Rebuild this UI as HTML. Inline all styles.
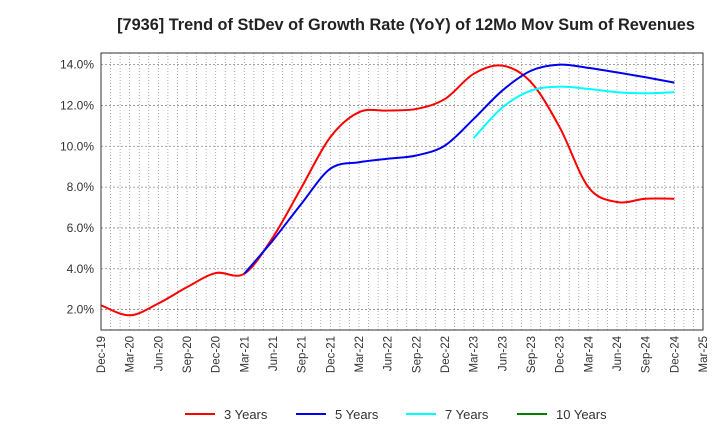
<!DOCTYPE html>
<html><head><meta charset="utf-8"><style>
body{margin:0;background:#fff;font-family:"Liberation Sans",sans-serif;}
</style></head><body>
<svg width="720" height="440" xmlns="http://www.w3.org/2000/svg" font-family="Liberation Sans, sans-serif">
<text x="406" y="30" text-anchor="middle" font-size="16.3" font-weight="bold" fill="#222">[7936]  Trend of StDev of Growth Rate (YoY) of 12Mo Mov Sum of Revenues</text>
<g id="grid"></g>
<g id="yaxis"></g>
<g id="xaxis"></g>
<g id="series"></g>
<rect x="101" y="53" width="602" height="277" fill="none" stroke="#333" stroke-width="1"/>
<g id="legend"></g>
</svg>
<script>
const xLabels=["Dec-19","Mar-20","Jun-20","Sep-20","Dec-20","Mar-21","Jun-21","Sep-21","Dec-21","Mar-22","Jun-22","Sep-22","Dec-22","Mar-23","Jun-23","Sep-23","Dec-23","Mar-24","Jun-24","Sep-24","Dec-24","Mar-25"];
const yTicks=[2,4,6,8,10,12,14];
const s3=[2.21,1.72,2.3,3.1,3.79,3.76,5.55,8.0,10.45,11.67,11.75,11.83,12.32,13.55,13.95,13.14,10.93,8.0,7.27,7.43,7.43];
const s5=[null,null,null,null,null,3.76,5.4,7.2,8.9,9.22,9.39,9.55,10.04,11.34,12.73,13.7,14.0,13.84,13.62,13.38,13.12];
const s7=[null,null,null,null,null,null,null,null,null,null,null,null,null,10.4,11.9,12.73,12.92,12.81,12.65,12.6,12.65];
const s10=[];
const L=101,R=703,T=53,B=330,yMin=1,yMax=14.57;
const X=i=>L+i*(R-L)/21;
const Y=v=>B-(v-yMin)*(B-T)/(yMax-yMin);
const NS="http://www.w3.org/2000/svg";
function mk(t,a,p){const e=document.createElementNS(NS,t);for(const k in a)e.setAttribute(k,a[k]);p.appendChild(e);return e;}
const grid=document.getElementById('grid');
for(let m=1;m<63;m++){const x=L+m*(R-L)/63;
const l=mk('line',{x1:x,x2:x,y1:T,y2:B,stroke:'#999','stroke-dasharray':'1,2','stroke-width':0.8},grid);

}
const ya=document.getElementById('yaxis');
yTicks.forEach(v=>{const y=Y(v);
const l=mk('line',{x1:L,x2:R,y1:y,y2:y,stroke:'#888','stroke-dasharray':'2,2','stroke-width':0.8},grid);


const t=mk('text',{x:94,y:y+4,'text-anchor':'end','font-size':12,fill:'#333'},ya);t.textContent=v.toFixed(1)+'%';

});
const xa=document.getElementById('xaxis');
xLabels.forEach((s,i)=>{const x=X(i);
const t=mk('text',{x:0,y:0,'text-anchor':'end','font-size':11.5,fill:'#333',transform:`translate(${x+4},336) rotate(-90)`},xa);t.textContent=s;

});
function path(arr){const pts=[];arr.forEach((v,i)=>{if(v!=null)pts.push([X(i),Y(v)]);});
if(pts.length<2)return '';let d=`M${pts[0][0]},${pts[0][1]}`;
for(let i=0;i<pts.length-1;i++){const p0=pts[Math.max(i-1,0)],p1=pts[i],p2=pts[i+1],p3=pts[Math.min(i+2,pts.length-1)];
const c1=[p1[0]+(p2[0]-p0[0])/6,p1[1]+(p2[1]-p0[1])/6],c2=[p2[0]-(p3[0]-p1[0])/6,p2[1]-(p3[1]-p1[1])/6];
d+=`C${c1[0]},${c1[1]} ${c2[0]},${c2[1]} ${p2[0]},${p2[1]}`;}return d;}
const sg=document.getElementById('series');
[[s3,'#ff0000','line-3-years'],[s5,'#0000ee','line-5-years'],[s7,'#00ffff','line-7-years'],[s10,'#008000','line-10-years']].forEach(([a,c,n])=>{
const d=path(a);if(!d)return;const p=mk('path',{d:d,fill:'none',stroke:c,'stroke-width':2},sg);

});
const lg=document.getElementById('legend');
[['3 Years','#ff0000',185],['5 Years','#0000ee',296],['7 Years','#00ffff',406],['10 Years','#008000',517]].forEach(([s,c,x])=>{
const l=mk('line',{x1:x,x2:x+30,y1:414,y2:414,stroke:c,'stroke-width':2},lg);


const t=mk('text',{x:x+39,y:419,'font-size':13,fill:'#333'},lg);t.textContent=s;

});
</script>
</body></html>
